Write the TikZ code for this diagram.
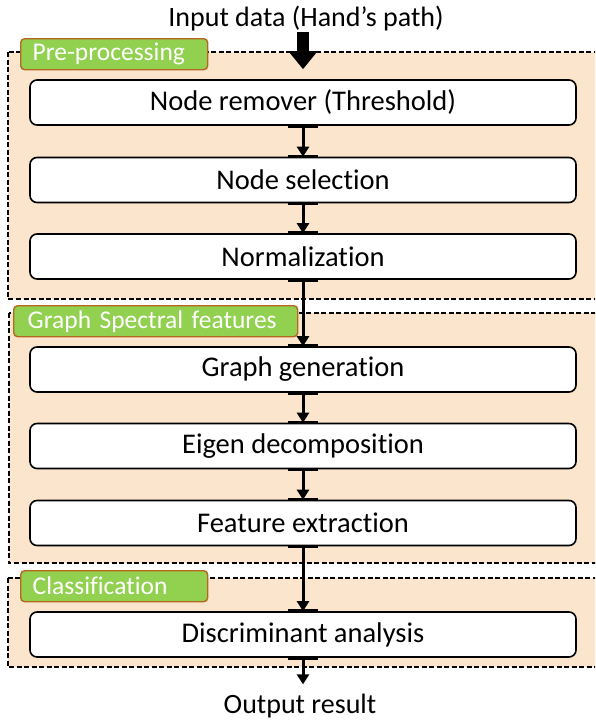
\documentclass[tikz,border=0pt]{standalone}
\usepackage{fontspec}
\setmainfont{Carlito}[Ligatures={NoCommon,NoRequired,NoContextual}]
\usetikzlibrary{arrows.meta,calc}
\definecolor{groupfill}{HTML}{FBE5CD}
\definecolor{tagfill}{HTML}{92D050}
\definecolor{tagedge}{HTML}{B5661F}
\begin{document}
\begin{tikzpicture}[x=1pt,y=-1pt,
  groupbox/.style={draw=black, dash pattern=on 5pt off 2.5pt, line width=1.2pt, fill=groupfill},
  tag/.style={draw=tagedge, fill=tagfill, line width=1.4pt, rounded corners=4pt,
    text=white, font=\fontsize{25.5}{30}\selectfont, anchor=north west,
    inner xsep=12pt, inner ysep=0pt, minimum height=31pt, align=left},
  stepbox/.style={draw=black, fill=white, line width=1.6pt, rounded corners=7pt,
    minimum width=546pt, minimum height=45pt, inner sep=0pt,
    font=\fontsize{28.5}{33}\selectfont},
  plain/.style={font=\fontsize{28}{32}\selectfont, inner sep=0pt, anchor=base},
  flow/.style={line width=3pt, -{Triangle[length=10pt,width=12pt]}},
  tick/.style={line width=3.5pt}
]
\useasboundingbox (0,0) rectangle (595,720);
\clip (0,0) rectangle (595,720);
\fill[white] (0,0) rectangle (595,720);

% stage groups
\draw[groupbox] (8,52) rectangle (600,299);
\draw[groupbox] (9,313) rectangle (600,563);
\draw[groupbox] (8,578) rectangle (600,667);

% group captions
\node[tag, text width=163pt] (tpre) at (20,38) {Pre-processing};
\node[tag, text width=256pt, inner xsep=14pt] (tgsf) at (13,305) {Graph Spectral features};
\node[tag, text width=163pt] (tcls) at (20,570) {Classification};

% processing steps
\node[stepbox] (n1) at (303,102.5) {Node remover (Threshold)};
\node[stepbox] (n2) at (303,180) {Node selection};
\node[stepbox] (n3) at (303,256.5) {Normalization};
\node[stepbox] (n4) at (303,369.5) {Graph generation};
\node[stepbox] (n5) at (303,446) {Eigen decomposition};
\node[stepbox] (n6) at (303,523) {Feature extraction};
\node[stepbox] (n7) at (303,634.5) {Discriminant analysis};

% input and output
\node[plain] (in) at (306,27) {Input data (Hand’s path)};
\node[plain] (out) at (300,713) {Output result};

% input arrow
\draw[line width=12pt, -{Triangle[length=18pt,width=28pt]}, shorten >=10pt]
  (n1.north |- in.south) -- (n1.north);

% connectors between steps
\foreach \a/\b in {n1/n2, n2/n3, n3/n4, n4/n5, n5/n6, n6/n7} {
  \draw[flow] (\a.south) -- (\b.north);
  \draw[tick] ([xshift=-15pt]\a.south) -- ([xshift=15pt]\a.south);
  \draw[tick] ([xshift=-15pt]\b.north) -- ([xshift=15pt]\b.north);
}
\draw[flow, shorten >=9pt] (n7.south) -- (n7.south |- out.north);
\draw[tick] ([xshift=-15pt]n7.south) -- ([xshift=15pt]n7.south);
\end{tikzpicture}
\end{document}
